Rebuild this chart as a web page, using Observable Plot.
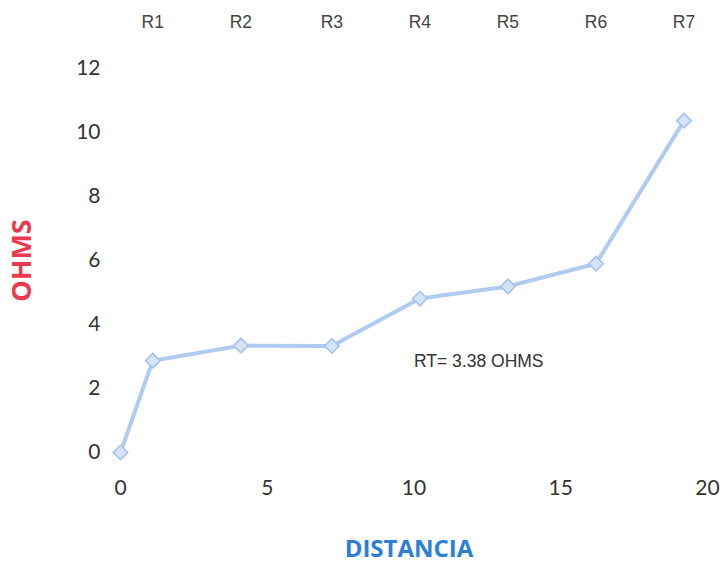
<!DOCTYPE html>
<html>
<head>
<meta charset="utf-8">
<script src="https://cdn.jsdelivr.net/npm/d3@7"></script>
<script src="https://cdn.jsdelivr.net/npm/@observablehq/plot@0.6"></script>
<style>
  html, body { margin: 0; padding: 0; background: #fff; }
</style>
</head>
<body>
<div id="chart"></div>
<script>
const distancia = [0, 1.1, 4.1, 7.2, 10.2, 13.2, 16.2, 19.2];
const ohms = [0, 2.87, 3.34, 3.33, 4.81, 5.19, 5.9, 10.37];
const pointNames = ["", "R1", "R2", "R3", "R4", "R5", "R6", "R7"];
const xTicks = [0, 5, 10, 15, 20];
const yTicks = [0, 2, 4, 6, 8, 10, 12];
const annotation = "RT= 3.38 OHMS";
const annotationPos = {x: 10, y: 2.85};

const data = distancia.map((d, i) => ({x: d, y: ohms[i], name: pointNames[i]}));
const named = data.filter(d => d.name);

const chart = Plot.plot({
  width: 723,
  height: 564,
  marginLeft: 120,
  marginRight: 16,
  marginTop: 68,
  marginBottom: 112,
  style: {background: "#fff"},
  x: {domain: [0, 20]},
  y: {domain: [0, 12]},
  marks: [
    Plot.axisX({ticks: xTicks, tickSize: 0, tickPadding: 28, label: null,
      fontSize: 21, fontFamily: "Lato", fill: "#333"}),
    Plot.axisY({ticks: yTicks, tickSize: 0, tickPadding: 20, label: null,
      fontSize: 21, fontFamily: "Lato", fill: "#333"}),
    Plot.line(data, {x: "x", y: "y", stroke: "#afcbf1", strokeWidth: 4}),
    Plot.dot(data, {x: "x", y: "y", symbol: "square", rotate: 45, r: 5.8,
      fill: "#d3e3f8", stroke: "#a3c1ec", strokeWidth: 1.5}),
    Plot.text(named, {x: "x", y: () => 12, text: "name", dy: -46,
      fontSize: 17.5, fontFamily: "Liberation Sans", fill: "#444", lineAnchor: "middle"}),
    Plot.text([annotation], {x: () => annotationPos.x, y: () => annotationPos.y,
      text: d => d, textAnchor: "start", fontSize: 17.5,
      fontFamily: "Liberation Sans", fill: "#333"}),
    Plot.text(["OHMS"], {frameAnchor: "left", dx: -98, rotate: -90, text: d => d,
      textAnchor: "middle", fontSize: 27, fontWeight: "bold", fontFamily: "Open Sans",
      fill: "#e8394f", lineAnchor: "middle"}),
    Plot.text(["DISTANCIA"], {frameAnchor: "bottom", dx: -5, dy: 97, text: d => d,
      textAnchor: "middle", fontSize: 24, fontWeight: "bold", fontFamily: "Open Sans",
      fill: "#2c7fd6", lineAnchor: "middle"})
  ]
});
document.getElementById("chart").appendChild(chart);
</script>
</body>
</html>
